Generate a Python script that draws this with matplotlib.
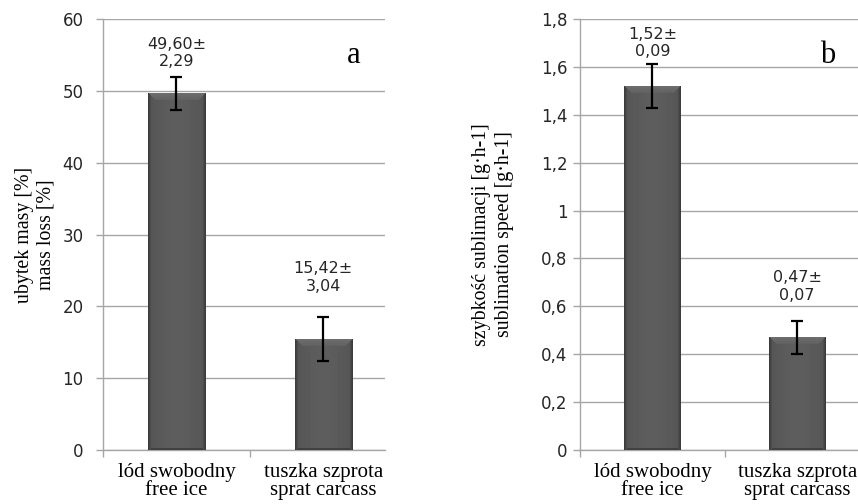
import numpy as np
import matplotlib.pyplot as plt
import matplotlib as mpl

categories = ["lód swobodny\nfree ice", "tuszka szprota\nsprat carcass"]

mass_loss = [49.60, 15.42]
mass_loss_sd = [2.29, 3.04]
mass_loss_labels = ["49,60±\n2,29", "15,42±\n3,04"]
mass_loss_ticks = [0, 10, 20, 30, 40, 50, 60]
mass_loss_ticklabels = ["0", "10", "20", "30", "40", "50", "60"]

subl_speed = [1.52, 0.47]
subl_speed_sd = [0.09, 0.07]
subl_speed_labels = ["1,52±\n0,09", "0,47±\n0,07"]
subl_speed_ticks = [0, 0.2, 0.4, 0.6, 0.8, 1.0, 1.2, 1.4, 1.6, 1.8]
subl_speed_ticklabels = ["0", "0,2", "0,4", "0,6", "0,8", "1", "1,2", "1,4", "1,6", "1,8"]

SERIF = "Liberation Serif"
SANS = "DejaVu Sans"
GRID = "#a6a6a6"

mpl.rc("font", family=SANS)


def bevel_image(w: int, h: int) -> np.ndarray:
    # excel-like bevelled bar: lighter top bevel, dark sides, soft horizontal shading
    xs = np.arange(w)[None, :] + 0.5
    ys = np.arange(h)[:, None] + 0.5
    u = xs / w
    face = 0.33 + 0.035 * np.sin(np.pi * u)
    img = np.broadcast_to(face, (h, w)).copy()
    side = np.minimum(xs, w - xs)
    depth = 7.0
    top = (ys < depth) & (ys < side)
    img = np.where(top, 0.43 - 0.05 * ys / depth, img)
    left = (side < 3) & ~top
    img = np.where(left, 0.22 + 0.03 * side, img)
    bottom = (h - ys < 2) & ~left
    img = np.where(bottom, 0.25, img)
    return img


def draw_panel(ax, values, errors, labels, ticks, ticklabels, ymax, ylabel, letter,
               label_offsets, ylabel_x, ylabel_spacing, tick_pad):
    x = np.arange(len(categories))
    bars = ax.bar(x, values, width=0.39, color="#555555", zorder=2)
    ax.errorbar(x, values, yerr=errors, fmt="none", ecolor="black", elinewidth=1.6,
                capsize=4.4, capthick=1.6, zorder=4)

    ax.set_ylim(0, ymax)
    ax.set_xlim(-0.5, 1.42)
    ax.set_yticks(ticks)
    ax.set_yticklabels(ticklabels, fontsize=12, color="#262626")
    ax.yaxis.grid(True, color=GRID, linewidth=1.0)
    ax.set_axisbelow(True)

    ax.set_xticks([-0.5, 0.5])
    ax.set_xticklabels([])
    ax.set_xticks(x, minor=True)
    ax.set_xticklabels(categories, minor=True, fontsize=15, family=SERIF, linespacing=0.95)
    ax.tick_params(axis="x", which="minor", length=0, pad=9)
    ax.tick_params(axis="x", which="major", length=5, color=GRID, width=1)
    ax.tick_params(axis="y", length=5, color=GRID, width=1, pad=tick_pad)

    for side in ["top", "right"]:
        ax.spines[side].set_visible(False)
    for side in ["left", "bottom"]:
        ax.spines[side].set_color(GRID)
        ax.spines[side].set_linewidth(1.0)

    ax.set_ylabel(ylabel, family=SERIF, fontsize=14.3, linespacing=ylabel_spacing, va="center")
    ax.yaxis.set_label_coords(ylabel_x, 0.5)

    for xi, v, e, lab, off in zip(x, values, errors, labels, label_offsets):
        ax.annotate(lab, xy=(xi, v + e), xytext=(0, off), textcoords="offset points",
                    ha="center", va="bottom", fontsize=11.5, color="#262626", linespacing=1.2)

    ax.text(0.89, 0.898, letter, transform=ax.transAxes, family=SERIF, fontsize=22,
            ha="center", va="baseline")

    # bevel shading on each bar
    fig = ax.figure
    fig.canvas.draw()
    for bar in bars:
        x0, y0 = ax.transData.transform((bar.get_x(), bar.get_y()))
        x1, y1 = ax.transData.transform((bar.get_x() + bar.get_width(), bar.get_y() + bar.get_height()))
        w = max(int(round(x1 - x0)), 2)
        h = max(int(round(y1 - y0)), 2)
        img = bevel_image(w, h)
        ax.imshow(img, cmap="gray", vmin=0, vmax=1, aspect="auto", interpolation="nearest",
                  extent=(bar.get_x(), bar.get_x() + bar.get_width(), bar.get_y(), bar.get_y() + bar.get_height()),
                  zorder=3, clip_path=bar)
    ax.set_xlim(-0.5, 1.42)
    ax.set_ylim(0, ymax)


fig = plt.figure(figsize=(8.58, 5.04), dpi=100)
ax_a = fig.add_axes([103 / 858, 1 - 450 / 504, 282 / 858, 431 / 504])
ax_b = fig.add_axes([580 / 858, 1 - 450 / 504, 278 / 858, 431 / 504])

draw_panel(ax_a, mass_loss, mass_loss_sd, mass_loss_labels, mass_loss_ticks, mass_loss_ticklabels,
           60, "ubytek masy [%]\nmass loss [%]", "a", [6, 17], -0.241, 1.15, 9)
draw_panel(ax_b, subl_speed, subl_speed_sd, subl_speed_labels, subl_speed_ticks, subl_speed_ticklabels,
           1.8, "szybkość sublimacji [g·h-1]\nsublimation speed [g·h-1]", "b", [4, 13], -0.313, 1.25, 4)

fig.savefig("out.png", dpi=100)
